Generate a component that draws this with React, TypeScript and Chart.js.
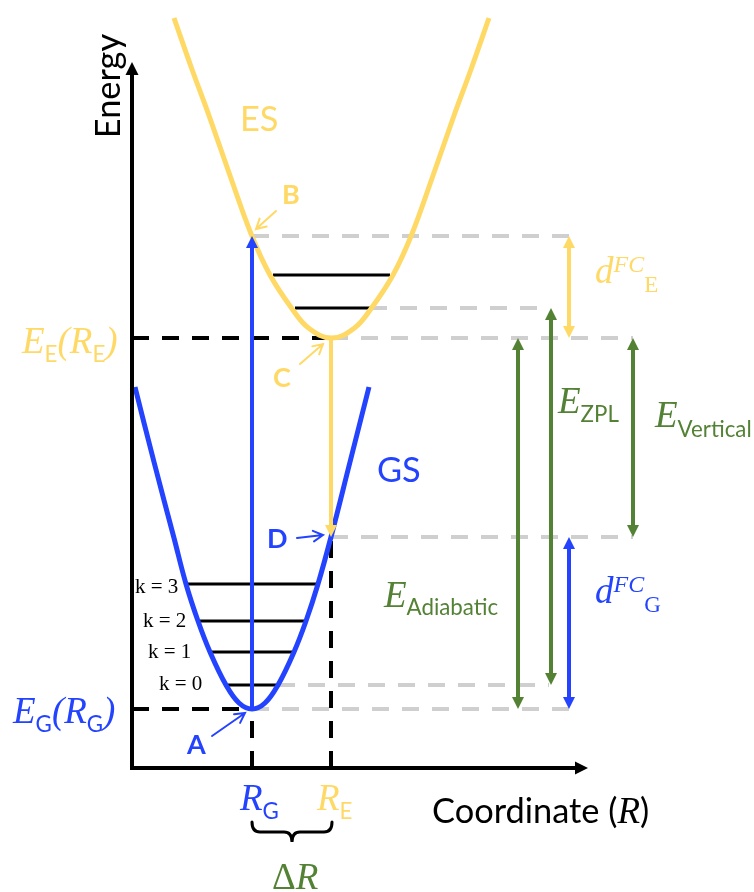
import { useEffect, useRef } from 'react';
import { Chart, registerables } from 'chart.js';
Chart.register(...registerables);

// ---------- values (units: axis origin = 0) ----------
const R_G = 120;
const R_E = 199;
const E_G = 59;   // ground state minimum  (A)
const E_E = 430;  // excited state minimum (C)
const E_B = 532;  // vertical absorption end (B)
const E_D = 231;  // vertical emission end (D)
const E_K0 = 83;  // k = 0 level of GS
const E_ES1 = 460; // first ES level

const gsCurveR = [3, 22, 42, 54, 66, 78, 94, 107, 120, 133, 146, 162, 174, 186, 199, 218, 237];
const gsCurveE = [381, 306, 230, 184, 147, 116, 83, 65, 59, 65, 83, 116, 147, 184, 231, 306, 381];

const esCurveR = [42, 59.5, 77.5, 98.5, 119.5, 138, 159.5, 176.5, 199.5, 222.5, 239.5, 261, 279.5, 300.5, 321.5, 339.5, 357];
const esCurveE = [750, 700, 651, 591, 533, 493, 460, 440, 430, 440, 460, 493, 533, 591, 651, 700, 750];

const gsLevelE = [184, 147, 116, 83];
const gsLevelFrom = [56, 68, 80, 96];
const gsLevelTo = [185, 173, 161, 146];
const gsLevelLabels = ['k = 3', 'k = 2', 'k = 1', 'k = 0'];
const gsLabelR = [3, 11, 16, 27];
const gsLabelE = [175, 141, 110, 78];

const esLevelE = [493, 460];
const esLevelFrom = [141, 163];
const esLevelTo = [258, 238];

const grayE = [E_B, E_ES1, E_E, E_D, E_K0, E_G];
const grayFrom = [120, 238, 199, 199, 146, 120];
const grayTo = [437, 417, 501, 501, 417, 437];

const R_MAX_AXIS = 456;
const E_MAX_AXIS = 706;

const COLORS = {
  yellow: '#FFD966',
  blue: '#2343FF',
  green: '#548235',
  gray: '#CFCFCF',
  black: '#000000',
};

let calK = 1;
const sans = (s: number, bold = false) => `${bold ? 'bold ' : ''}${(s * calK).toFixed(1)}px Lato`;
const serif = (s: number, italic = false) => `${italic ? 'italic ' : ''}${s}px "Liberation Serif"`;

type Run = { t: string; f: () => string; dy?: number };

function rich(ctx: CanvasRenderingContext2D, x: number, y: number, runs: Run[], color: string) {
  let cx = x;
  ctx.fillStyle = color;
  ctx.textAlign = 'left';
  ctx.textBaseline = 'alphabetic';
  for (const r of runs) {
    ctx.font = r.f();
    ctx.fillText(r.t, cx, y + (r.dy || 0));
    cx += ctx.measureText(r.t).width;
  }
}

function head(ctx: CanvasRenderingContext2D, x: number, y: number, ang: number, hl: number, hw: number, color: string) {
  const ux = Math.cos(ang), uy = Math.sin(ang);
  const bx = x - ux * hl, by = y - uy * hl;
  ctx.fillStyle = color;
  ctx.beginPath();
  ctx.moveTo(x, y);
  ctx.lineTo(bx - uy * hw / 2, by + ux * hw / 2);
  ctx.lineTo(bx + uy * hw / 2, by - ux * hw / 2);
  ctx.closePath();
  ctx.fill();
}

function arrow(ctx: CanvasRenderingContext2D, x1: number, y1: number, x2: number, y2: number,
  color: string, lw: number, hl: number, hw: number, both: boolean) {
  const ang = Math.atan2(y2 - y1, x2 - x1);
  const ux = Math.cos(ang), uy = Math.sin(ang);
  const sx = both ? x1 + ux * hl * 0.8 : x1, sy = both ? y1 + uy * hl * 0.8 : y1;
  const ex = x2 - ux * hl * 0.8, ey = y2 - uy * hl * 0.8;
  ctx.strokeStyle = color;
  ctx.lineWidth = lw;
  ctx.lineCap = 'butt';
  ctx.setLineDash([]);
  ctx.beginPath();
  ctx.moveTo(sx, sy);
  ctx.lineTo(ex, ey);
  ctx.stroke();
  head(ctx, x2, y2, ang, hl, hw, color);
  if (both) head(ctx, x1, y1, ang + Math.PI, hl, hw, color);
}

function openArrow(ctx: CanvasRenderingContext2D, x1: number, y1: number, x2: number, y2: number, color: string) {
  const ang = Math.atan2(y2 - y1, x2 - x1);
  ctx.strokeStyle = color;
  ctx.lineWidth = 2;
  ctx.setLineDash([]);
  ctx.lineCap = 'round';
  ctx.beginPath();
  ctx.moveTo(x1, y1);
  ctx.lineTo(x2, y2);
  const L = 11, a = 0.5;
  ctx.moveTo(x2 - L * Math.cos(ang - a), y2 - L * Math.sin(ang - a));
  ctx.lineTo(x2, y2);
  ctx.lineTo(x2 - L * Math.cos(ang + a), y2 - L * Math.sin(ang + a));
  ctx.stroke();
}

const pointerArrows = [
  { from: [144, 557], to: [124, 539], color: COLORS.yellow },
  { from: [168, 404], to: [191, 424], color: COLORS.yellow },
  { from: [165, 230], to: [191, 233], color: COLORS.blue },
  { from: [80, 32], to: [113, 55], color: COLORS.blue },
];

const energyArrows = [
  { r: R_G, from: E_G, to: E_B, color: COLORS.blue, both: false },
  { r: R_E, from: E_E, to: E_D, color: COLORS.yellow, both: false },
  { r: 437, from: E_E, to: E_B, color: COLORS.yellow, both: true },
  { r: 386, from: E_G, to: E_E, color: COLORS.green, both: true },
  { r: 419, from: E_K0, to: E_ES1, color: COLORS.green, both: true },
  { r: 501, from: E_D, to: E_E, color: COLORS.green, both: true },
  { r: 437, from: E_G, to: E_D, color: COLORS.blue, both: true },
];

const seg = (r1: number, r2: number, e1: number, e2: number) => [{ x: r1, y: e1 }, { x: r2, y: e2 }];

const overlay = {
  id: 'overlay',
  afterDatasetsDraw(chart: any) {
    const ctx: CanvasRenderingContext2D = chart.ctx;
    const xs = chart.scales.x, ys = chart.scales.y;
    const X = (v: number) => xs.getPixelForValue(v);
    const Y = (v: number) => ys.getPixelForValue(v);
    ctx.save();
    ctx.font = '100px Lato';
    calK = 452.7 / ctx.measureText('Coordinate').width;

    // axes
    ctx.strokeStyle = COLORS.black;
    ctx.lineWidth = 4;
    ctx.lineJoin = 'miter';
    ctx.setLineDash([]);
    ctx.beginPath();
    ctx.moveTo(X(0), Y(E_MAX_AXIS) + 10);
    ctx.lineTo(X(0), Y(0));
    ctx.lineTo(X(R_MAX_AXIS) - 10, Y(0));
    ctx.stroke();
    head(ctx, X(0), Y(E_MAX_AXIS), -Math.PI / 2, 13, 13, COLORS.black);
    head(ctx, X(R_MAX_AXIS), Y(0), 0, 13, 13, COLORS.black);

    // energy arrows
    for (const a of energyArrows) {
      arrow(ctx, X(a.r), Y(a.from), X(a.r), Y(a.to), a.color, 4, 12, 12, a.both);
    }
    for (const p of pointerArrows) {
      openArrow(ctx, X(p.from[0]), Y(p.from[1]), X(p.to[0]), Y(p.to[1]), p.color);
    }

    // brace under R_G .. R_E
    const bx1 = X(R_G), bx2 = X(R_E + 1), bxc = (bx1 + bx2) / 2;
    const byT = Y(-54), byM = Y(-64), byTip = Y(-74);
    const r = 8;
    ctx.strokeStyle = COLORS.black;
    ctx.lineWidth = 3;
    ctx.lineCap = 'round';
    ctx.beginPath();
    ctx.moveTo(bx1, byT);
    ctx.quadraticCurveTo(bx1, byM, bx1 + r, byM);
    ctx.lineTo(bxc - r, byM);
    ctx.quadraticCurveTo(bxc, byM, bxc, byTip);
    ctx.quadraticCurveTo(bxc, byM, bxc + r, byM);
    ctx.lineTo(bx2 - r, byM);
    ctx.quadraticCurveTo(bx2, byM, bx2, byT);
    ctx.stroke();

    // texts
    const S = (t: string, s: number, bold = false): Run => ({ t, f: () => sans(s, bold) });
    const B = (t: string, s: number): Run => ({ t, f: () => `bold ${s}px Lato` });
    const SS = (t: string, s: number, dy: number): Run => ({ t, f: () => sans(s), dy });
    const I = (t: string, s: number, dy = 0): Run => ({ t, f: () => serif(s, true), dy });
    const U = (t: string, s: number, dy = 0): Run => ({ t, f: () => serif(s, false), dy });

    rich(ctx, X(108), Y(637), [S('ES', 37)], COLORS.yellow);
    rich(ctx, X(245), Y(286), [S('GS', 37)], COLORS.blue);
    rich(ctx, X(150), Y(564), [B('B', 27)], COLORS.yellow);
    rich(ctx, X(141), Y(381), [B('C', 27)], COLORS.yellow);
    rich(ctx, X(135), Y(220), [B('D', 27)], COLORS.blue);
    rich(ctx, X(55), Y(14), [B('A', 27)], COLORS.blue);

    // Energy (rotated)
    ctx.save();
    ctx.translate(X(-12), Y(682));
    ctx.rotate(-Math.PI / 2);
    ctx.font = sans(37);
    ctx.fillStyle = COLORS.black;
    ctx.textAlign = 'center';
    ctx.textBaseline = 'alphabetic';
    ctx.fillText('Energy', 0, 0);
    ctx.restore();

    rich(ctx, X(300), Y(-55), [S('Coordinate (', 37), I('R', 37), S(')', 37)], COLORS.black);

    for (let i = 0; i < gsLevelLabels.length; i++) {
      rich(ctx, X(gsLabelR[i]), Y(gsLabelE[i]), [U(gsLevelLabels[i], 21)], COLORS.black);
    }

    rich(ctx, X(-110), Y(415), [I('E', 37), SS('E', 24, 9), I('(', 37), I('R', 37), SS('E', 24, 9), I(')', 37)], COLORS.yellow);
    rich(ctx, X(-119), Y(45), [I('E', 37), SS('G', 24, 9), I('(', 37), I('R', 37), SS('G', 24, 9), I(')', 37)], COLORS.blue);

    rich(ctx, X(108), Y(-42), [I('R', 37), SS('G', 24, 9)], COLORS.blue);
    rich(ctx, X(185), Y(-42), [I('R', 37), SS('E', 24, 9)], COLORS.yellow);
    rich(ctx, X(140), Y(-121), [U('Δ', 37), I('R', 37)], COLORS.green);

    rich(ctx, X(463), Y(485), [I('d', 37), I('FC', 24, -11), U('E', 23, 9)], COLORS.yellow);
    rich(ctx, X(463), Y(165), [I('d', 37), I('FC', 24, -11), U('G', 23, 9)], COLORS.blue);

    rich(ctx, X(426), Y(355), [I('E', 37), SS('ZPL', 24, 9)], COLORS.green);
    rich(ctx, X(523), Y(341), [I('E', 37), SS('Vertical', 24, 10)], COLORS.green);
    rich(ctx, X(252), Y(161), [I('E', 37), SS('Adiabatic', 24, 8)], COLORS.green);

    ctx.restore();
  },
};

export default function App() {
  const ref = useRef<HTMLCanvasElement>(null);
  useEffect(() => {
    if (!ref.current) return;
    const base = { pointRadius: 0, showLine: true, fill: false, borderCapStyle: 'butt' as const };
    const datasets: any[] = [];
    datasets.push({
      ...base, data: esCurveR.map((r, i) => ({ x: r, y: esCurveE[i] })),
      borderColor: COLORS.yellow, borderWidth: 5, tension: 0.4, borderJoinStyle: 'round', order: 1,
    });
    datasets.push({
      ...base, data: gsCurveR.map((r, i) => ({ x: r, y: gsCurveE[i] })),
      borderColor: COLORS.blue, borderWidth: 5, tension: 0.4, borderJoinStyle: 'round', order: 1,
    });
    gsLevelE.forEach((e, i) => datasets.push({
      ...base, data: seg(gsLevelFrom[i], gsLevelTo[i], e, e), borderColor: COLORS.black, borderWidth: 3, order: 3,
    }));
    esLevelE.forEach((e, i) => datasets.push({
      ...base, data: seg(esLevelFrom[i], esLevelTo[i], e, e), borderColor: COLORS.black, borderWidth: 3, order: 3,
    }));
    const blackDash = [seg(0, R_E, E_E, E_E), seg(0, R_G, E_G, E_G), seg(R_G, R_G, 0, E_G), seg(R_E, R_E, 0, E_D)];
    blackDash.forEach((d) => datasets.push({
      ...base, data: d, borderColor: COLORS.black, borderWidth: 4, borderDash: [17, 13], order: 4,
    }));
    grayE.forEach((e, i) => datasets.push({
      ...base, data: seg(grayFrom[i], grayTo[i], e, e), borderColor: COLORS.gray, borderWidth: 4, borderDash: [17, 13], order: 5,
    }));

    const chart = new Chart(ref.current, {
      type: 'scatter',
      data: { datasets },
      options: {
        animation: false,
        responsive: false,
        layout: { padding: 0 },
        plugins: { legend: { display: false }, tooltip: { enabled: false }, title: { display: false } },
        scales: {
          x: { type: 'linear', min: -132, max: 622, display: false },
          y: { type: 'linear', min: -124, max: 768, display: false },
        },
      },
      plugins: [overlay],
    } as any);
    return () => chart.destroy();
  }, []);
  return (
    <div style={{ position: 'absolute', left: 0, top: 0, width: 754, height: 892, background: '#fff' }}>
      <canvas ref={ref} width={754} height={892} style={{ display: 'block' }} />
    </div>
  );
}
